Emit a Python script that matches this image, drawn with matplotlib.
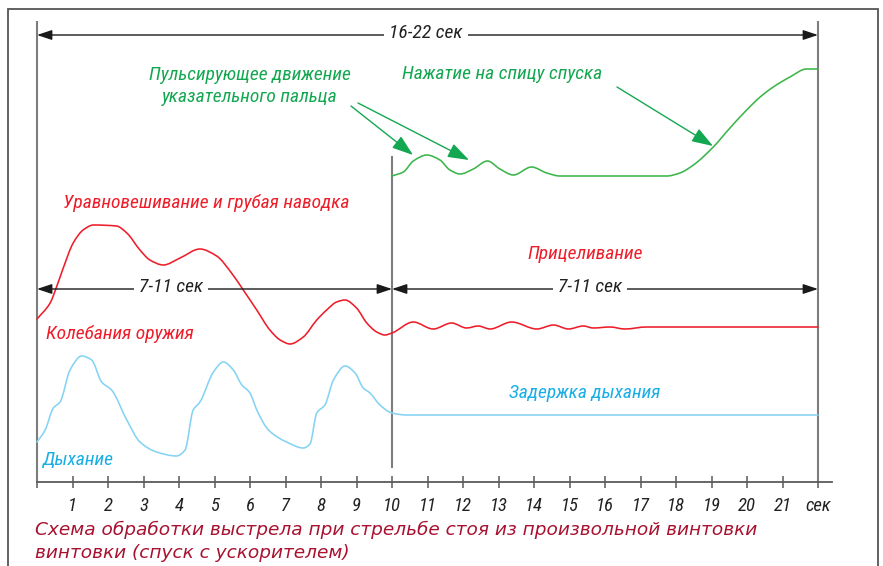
import matplotlib
matplotlib.use('Agg')
import matplotlib.pyplot as plt
from matplotlib.path import Path
from matplotlib.patches import PathPatch, Rectangle
from matplotlib import font_manager as fm

# ---------------- data ----------------
# time in seconds, height in arbitrary units above the time axis
breath_t = [0.0, 0.23, 0.46, 0.65, 0.93, 1.26, 1.54, 1.82, 2.1, 2.53, 2.9, 3.37, 3.93, 4.17,
            4.4, 4.59, 4.97, 5.25, 5.53, 5.77, 5.98, 6.23, 6.52, 7.03, 7.5, 7.69, 7.88, 8.11,
            8.35, 8.68, 8.96, 9.19, 9.38, 9.66, 10.0, 10.41, 11.0, 22.0]
breath_h = [40, 52, 74, 80, 112, 126, 122, 100, 92, 62, 40, 30, 26, 32,
            72, 80, 110, 120, 112, 97, 90, 69, 52, 40, 34, 38, 69, 77,
            102, 116, 109, 94, 89, 77, 69, 67, 67, 67]

weapon_t = [0.0, 0.37, 0.55, 0.74, 1.02, 1.3, 1.59, 2.24, 2.53, 2.9, 3.18, 3.56, 4.03, 4.59,
            5.06, 5.5, 5.81, 6.19, 6.56, 6.85, 7.13, 7.5, 7.88, 8.16, 8.44, 8.68, 9.0, 9.29,
            9.57, 9.8, 10.0, 10.6, 11.16, 11.68, 12.1, 12.43, 12.76, 13.37, 14.08, 14.55,
            14.97, 15.39, 15.67, 16.14, 16.56, 17.17, 22.0]
weapon_h = [163, 179, 195, 214, 239, 252, 257, 256, 249, 232, 222, 217, 224, 233,
            226, 208, 192, 172, 152, 142, 138, 145, 162, 172, 180, 182, 174, 159,
            150, 147, 149, 160, 153, 159, 154, 156, 153, 160, 153, 157,
            153, 156, 154, 155, 153, 155, 155]

trigger_t = [10.0, 10.32, 10.6, 10.98, 11.35, 11.63, 11.92, 12.29, 12.69, 13.04, 13.42,
             13.93, 14.36, 14.73, 17.74, 18.11, 18.49, 19.05, 19.52, 19.99, 20.37, 20.74,
             21.21, 21.68, 22.0]
trigger_h = [306, 310, 321, 327, 322, 312, 308, 313, 321, 313, 307,
             315, 309, 306, 306, 309, 317, 335, 354, 372, 385, 395,
             405, 413, 413]

tick_pos = list(range(23))
tick_labels = [''] + [str(i) for i in range(1, 22)] + ['сек']

# ---------------- style ----------------
GREEN_L = '#3cb54a'
GREEN_T = '#14a751'
RED = '#ee1d2a'
BLUE_L = '#85d3f4'
BLUE_T = '#19aee6'
GRAY = '#7d7d7d'
DARK = '#222222'
CAPTION = '#a8112f'

avail = {f.name for f in fm.fontManager.ttflist}
COND = next((f for f in ['Liberation Sans Narrow', 'Roboto Condensed', 'DejaVu Sans Condensed',
                         'Liberation Sans'] if f in avail), 'DejaVu Sans')

W, H = 883, 566
fig = plt.figure(figsize=(W / 100, H / 100), dpi=100)
ax = fig.add_axes([0, 0, 1, 1])
X0, SX = 37.0, 35.5       # pixel of t=0, pixels per second
Y0 = 482.0                # pixel row of the time axis
ax.set_xlim(-X0 / SX, (W - X0) / SX)
ax.set_ylim(Y0 - H, Y0)


def tx(px):
    return (px - X0) / SX


def hy(py):
    return Y0 - py


def smooth_curve(t, h, color, lw):
    """Draw a smooth (PCHIP-shaped cubic Bezier) curve through the read points."""
    n = len(t)
    d = [(h[i + 1] - h[i]) / (t[i + 1] - t[i]) for i in range(n - 1)]
    m = [0.0] * n
    m[0], m[-1] = d[0], d[-1]
    for i in range(1, n - 1):
        if d[i - 1] * d[i] <= 0:
            m[i] = 0.0
        else:
            h0, h1 = t[i] - t[i - 1], t[i + 1] - t[i]
            w1, w2 = 2 * h1 + h0, h1 + 2 * h0
            m[i] = (w1 + w2) / (w1 / d[i - 1] + w2 / d[i])
    verts = [(t[0], h[0])]
    codes = [Path.MOVETO]
    for i in range(n - 1):
        dx = (t[i + 1] - t[i]) / 3.0
        verts += [(t[i] + dx, h[i] + m[i] * dx),
                  (t[i + 1] - dx, h[i + 1] - m[i + 1] * dx),
                  (t[i + 1], h[i + 1])]
        codes += [Path.CURVE4] * 3
    ax.add_patch(PathPatch(Path(verts, codes), fill=False, edgecolor=color, lw=lw,
                           capstyle='round', joinstyle='round', zorder=3))


# ---------------- frame and axis ----------------
fig.patches.append(Rectangle((8 / W, -0.1), (877.5 - 8) / W, 1 - 8.5 / H + 0.1,
                             transform=fig.transFigure, fill=False, ec='#555555', lw=1.3))

for s in ['top', 'right', 'left']:
    ax.spines[s].set_visible(False)
ax.spines['bottom'].set_position(('data', 0))
ax.spines['bottom'].set_bounds(0, tx(832))
ax.spines['bottom'].set_color('#5a5a5a')
ax.spines['bottom'].set_linewidth(1.3)
ax.set_yticks([])
ax.set_xticks(tick_pos)
ax.set_xticklabels(tick_labels, fontfamily=COND, fontstyle='italic', fontsize=13.5, color=DARK)
ax.tick_params(axis='x', direction='inout', length=9, width=1.1, color='#5a5a5a', pad=6)

ax.vlines([0, 22], 0, hy(21), color=GRAY, lw=1.5, zorder=2)
ax.vlines(10, hy(468), hy(156), color=GRAY, lw=1.5, zorder=2)

# ---------------- curves ----------------
smooth_curve(breath_t, breath_h, BLUE_L, 1.15)
smooth_curve(weapon_t, weapon_h, RED, 1.15)
smooth_curve(trigger_t, trigger_h, GREEN_L, 1.15)

# ---------------- span arrows ----------------
def span(t1, t2, h, label, xc):
    ax.annotate('', xy=(t1, h), xytext=(t2, h),
                arrowprops=dict(arrowstyle='<|-|>,head_length=0.9,head_width=0.3',
                                color='#1a1a1a', lw=1.0, shrinkA=0, shrinkB=0,
                                mutation_scale=10), zorder=4)
    ax.text(xc, h + 1.5, label, ha='center', va='center', fontfamily=COND,
            fontstyle='italic', fontsize=14, color=DARK, zorder=5,
            bbox=dict(boxstyle='square,pad=0.25', fc='white', ec='none'))


span(0, 22, hy(35), '16-22 сек', tx(426))
span(0, 10, hy(289), '7-11 сек', tx(171))
span(10, 22, hy(289), '7-11 сек', tx(590))

# ---------------- green pointer arrows ----------------
garrow = dict(arrowstyle='-|>,head_length=1.3,head_width=0.45', color=GREEN_T, lw=1.0,
              shrinkA=0, shrinkB=0, mutation_scale=10)
ax.annotate('', xy=(tx(413), hy(155)), xytext=(tx(351), hy(106)), arrowprops=garrow)
ax.annotate('', xy=(tx(469), hy(160)), xytext=(tx(358), hy(103)), arrowprops=garrow)
ax.annotate('', xy=(tx(713), hy(146)), xytext=(tx(617), hy(87)), arrowprops=garrow)

# ---------------- labels ----------------
def label(px, py, s, color, size=14):
    ax.text(tx(px), hy(py), s, ha='center', va='center', fontfamily=COND,
            fontstyle='italic', fontsize=size, color=color, zorder=5)


label(250, 75, 'Пульсирующее движение', GREEN_T)
label(250, 97, 'указательного пальца', GREEN_T)
label(502, 74, 'Нажатие на спицу спуска', GREEN_T)
label(206, 203, 'Уравновешивание и грубая наводка', RED)
label(585, 254, 'Прицеливание', RED)
label(120, 334, 'Колебания оружия', RED)
label(78, 460, 'Дыхание', BLUE_T)
label(585, 393, 'Задержка дыхания', BLUE_T)

ax.text(tx(35), hy(530), 'Схема обработки выстрела при стрельбе стоя из произвольной винтовки',
        ha='left', va='center', fontfamily='DejaVu Sans', fontstyle='italic',
        fontsize=13.3, color=CAPTION)
ax.text(tx(35), hy(553), 'винтовки (спуск с ускорителем)',
        ha='left', va='center', fontfamily='DejaVu Sans', fontstyle='italic',
        fontsize=13.3, color=CAPTION)

fig.savefig('out.png', dpi=100)
